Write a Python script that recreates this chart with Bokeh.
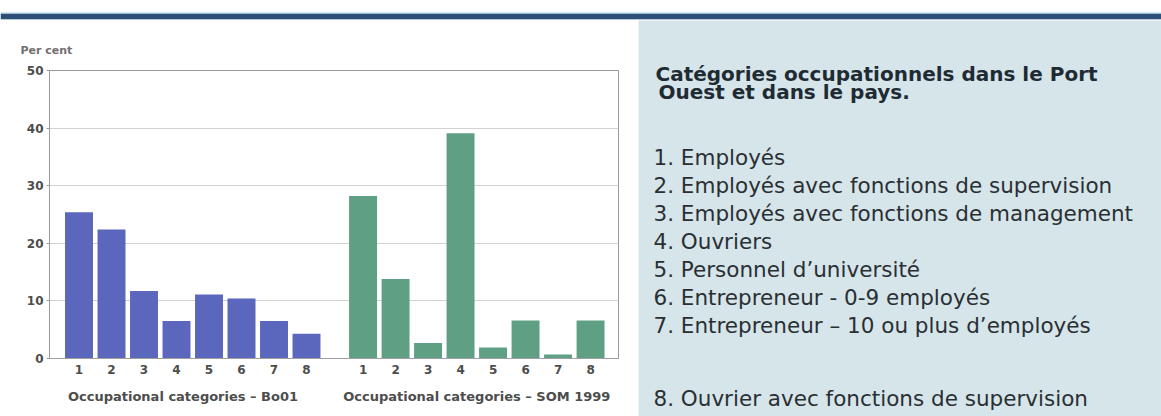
from bokeh.plotting import figure
from bokeh.layouts import column, row
from bokeh.models import Range1d, FixedTicker, LinearAxis, BoxAnnotation, ColumnDataSource
from bokeh.core.properties import value
from bokeh.embed import file_html
from bokeh.resources import INLINE

# ---------------- data ----------------
categories = ["1", "2", "3", "4", "5", "6", "7", "8"]
bo01 = [25.4, 22.4, 11.7, 6.5, 11.1, 10.4, 6.5, 4.3]
som1999 = [28.2, 13.8, 2.7, 39.1, 1.9, 6.6, 0.7, 6.6]
group_captions = ["Occupational categories \u2013 Bo01", "Occupational categories \u2013 SOM 1999"]
y_ticks = [0, 10, 20, 30, 40, 50]
y_label = "Per cent"
panel_title = ["Cat\u00e9gories occupationnels dans le Port", "Ouest et dans le pays."]
legend_items = [
    "1. Employ\u00e9s",
    "2. Employ\u00e9s avec fonctions de supervision",
    "3. Employ\u00e9s avec fonctions de management",
    "4. Ouvriers",
    "5. Personnel d\u2019universit\u00e9",
    "6. Entrepreneur - 0-9 employ\u00e9s",
    "7. Entrepreneur \u2013 10 ou plus d\u2019employ\u00e9s",
    "8. Ouvrier avec fonctions de supervision",
]

BLUE = "#5a67bd"
GREEN = "#5f9f83"
TXT = "#4d4d4d"
FONT = "DejaVu Sans"

# ---------------- layout helpers ----------------
GAP = 1.74  # distance (in slots) between the two groups of bars
n = len(categories)
x1 = [i + 1 for i in range(n)]
x2 = [n + GAP + i for i in range(n)]
group_centers = [sum(x1) / n - 0.3, sum(x2) / n]

# ---------------- header band ----------------
header = figure(width=1161, height=20, x_range=Range1d(0, 1), y_range=Range1d(0, 20),
                toolbar_location=None, output_backend="svg", min_border=0)
header.axis.visible = False
header.grid.visible = False
header.outline_line_color = None
header.background_fill_color = "white"
header.border_fill_color = "white"
header.add_layout(BoxAnnotation(bottom=1, top=7, fill_color="#2d5079", fill_alpha=1, line_color=None))
header.add_layout(BoxAnnotation(bottom=7, top=8, fill_color="#a8d2ea", fill_alpha=1, line_color=None))
header.add_layout(BoxAnnotation(bottom=0, top=1, fill_color="#dcebf2", fill_alpha=1, line_color=None))

# ---------------- bar chart ----------------
p = figure(width=638, height=396, x_range=Range1d(0.092, 17.60), y_range=Range1d(0, 50),
           toolbar_location=None, output_backend="svg",
           min_border_left=49, min_border_right=20, min_border_top=50, min_border_bottom=58,
           x_axis_location=None)
p.frame_align = False
p.background_fill_color = "white"
p.border_fill_color = "white"
p.outline_line_color = "#9a9a9a"

p.title.text = y_label
p.title.align = "left"
p.title.offset = -29
p.title.standoff = 28
p.title.text_font = FONT
p.title.text_font_style = "bold"
p.title.text_font_size = "11px"
p.title.text_color = "#707070"

src1 = ColumnDataSource(dict(x=x1, top=bo01))
src2 = ColumnDataSource(dict(x=x2, top=som1999))
p.vbar(x="x", top="top", width=0.86, source=src1, fill_color=BLUE, line_color=None)
p.vbar(x="x", top="top", width=0.86, source=src2, fill_color=GREEN, line_color=None)

p.yaxis.ticker = FixedTicker(ticks=y_ticks)
p.yaxis.major_tick_out = 3
p.yaxis.major_tick_in = 0
p.yaxis.minor_tick_line_color = None
p.yaxis.axis_line_color = "#9a9a9a"
p.yaxis.major_tick_line_color = "#9a9a9a"
p.yaxis.major_label_text_font = FONT
p.yaxis.major_label_text_font_style = "bold"
p.yaxis.major_label_text_font_size = "12px"
p.yaxis.major_label_text_color = TXT
p.yaxis.major_label_standoff = 3
p.ygrid.grid_line_color = "#d2d2d2"
p.xgrid.grid_line_color = None

xa = LinearAxis(ticker=FixedTicker(ticks=x1 + x2),
                major_label_overrides={x: c for x, c in zip(x1 + x2, categories + categories)})
xa.major_tick_line_color = None
xa.minor_tick_line_color = None
xa.axis_line_color = "#a0a0a0"
xa.major_label_text_font = FONT
xa.major_label_text_font_style = "bold"
xa.major_label_text_font_size = "12px"
xa.major_label_text_color = TXT
xa.major_label_standoff = 0
p.add_layout(xa, "below")

ca = LinearAxis(ticker=FixedTicker(ticks=group_centers),
                major_label_overrides={x: c for x, c in zip(group_centers, group_captions)})
ca.major_tick_line_color = None
ca.minor_tick_line_color = None
ca.axis_line_color = None
ca.major_label_text_font = FONT
ca.major_label_text_font_style = "bold"
ca.major_label_text_font_size = "13px"
ca.major_label_text_color = TXT
ca.major_label_standoff = 6
p.add_layout(ca, "below")

# ---------------- right text panel ----------------
BG = "#d6e5ea"
r = figure(width=523, height=396, x_range=Range1d(0, 523), y_range=Range1d(396, 0),
           toolbar_location=None, output_backend="svg", min_border=0)
r.frame_align = False
r.axis.visible = False
r.grid.visible = False
r.outline_line_color = None
r.background_fill_color = BG
r.border_fill_color = BG

r.text(x=[17, 20], y=[53, 71], text=panel_title, text_font=value(FONT), text_font_style="bold",
       text_font_size="20px", text_color="#1f2b33", text_baseline="middle")
item_y = [137 + 28 * i + (45 if i == n - 1 else 0) for i in range(len(legend_items))]
r.text(x=[15] * len(legend_items), y=item_y, text=legend_items, text_font=value(FONT),
       text_font_size="21.5px", text_color="#2a2f33", text_baseline="middle")

layout = column(header, row(p, r, spacing=0), spacing=0)
open("out.html", "w").write(file_html(layout, INLINE))
